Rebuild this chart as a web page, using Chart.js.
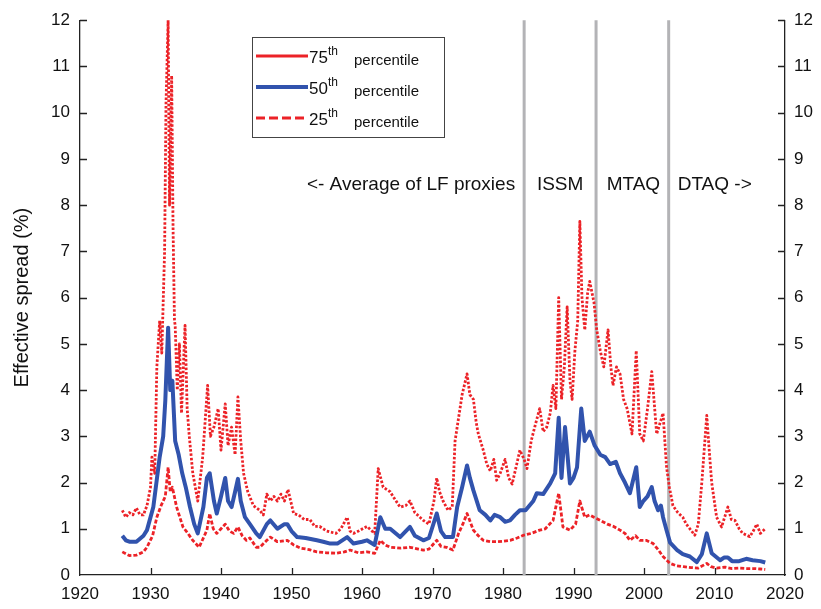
<!DOCTYPE html>
<html>
<head>
<meta charset="utf-8">
<script src="https://cdn.jsdelivr.net/npm/chart.js"></script>
<style>
html, body { margin: 0; padding: 0; background: #fff; }
</style>
</head>
<body>
<canvas id="chart" width="821" height="609"></canvas>
<script>
// effective spread percentiles
const hiYears = [1926,1926.5,1927,1927.5,1928,1928.5,1929,1929.5,1930,1930.2,1930.6,1930.9,1931.3,1931.6,1932,1932.2,1932.5,1932.7,1933,1933.2,1933.4,1933.5,1933.8,1934.1,1934.4,1934.9,1935.2,1935.5,1936,1936.7,1937.4,1938.1,1938.5,1939,1939.6,1940,1940.6,1941,1941.5,1942,1942.4,1942.8,1943.2,1943.8,1944.6,1945.5,1946,1946.5,1947,1947.5,1948,1948.5,1949,1949.5,1950.3,1951,1951.8,1952.6,1953.3,1954,1955,1955.5,1956.3,1957,1957.9,1958.3,1958.8,1959.5,1960.7,1961.8,1962.3,1963,1964,1964.4,1965.4,1966.2,1966.8,1967.5,1968.7,1969.5,1970.2,1970.6,1971,1971.5,1972.2,1972.8,1973.2,1973.7,1974.2,1974.9,1975.3,1975.8,1976.2,1976.5,1977.2,1977.7,1978.2,1978.7,1979.1,1979.6,1980.3,1980.8,1981.3,1981.8,1982.4,1983,1983.4,1984,1984.5,1985.2,1985.7,1986.2,1986.7,1987.1,1987.5,1987.9,1988.3,1988.7,1989.1,1989.5,1989.8,1990.2,1990.6,1990.9,1991.2,1991.6,1992,1992.3,1992.9,1993.3,1993.8,1994.3,1994.9,1995.3,1995.6,1996.1,1996.6,1997.1,1997.6,1998.3,1998.9,1999.4,1999.9,2000.5,2001.1,2001.8,2002.3,2002.7,2003.2,2003.6,2004.1,2004.8,2005.5,2006,2006.5,2007.2,2007.7,2008.2,2008.9,2009.3,2009.6,2010.3,2011,2011.9,2012.4,2012.9,2013.5,2014,2015,2015.5,2016,2016.5,2017.2];
const hiVals = [1.4,1.25,1.35,1.3,1.45,1.3,1.3,1.5,1.9,2.55,2.2,4.5,5.5,4.8,7.0,10.2,12.0,8.0,10.8,7.5,5.5,5.4,4.0,5.0,3.5,5.4,3.6,3.0,2.2,1.6,2.55,4.1,3.0,3.2,3.6,2.7,3.7,2.8,3.2,2.6,3.85,2.9,2.2,1.8,1.5,1.4,1.3,1.75,1.6,1.7,1.6,1.75,1.6,1.85,1.33,1.3,1.2,1.2,1.05,1.05,0.95,0.93,0.9,1.0,1.25,0.95,0.9,0.95,1.05,0.9,2.3,1.9,1.8,1.7,1.47,1.5,1.6,1.35,1.18,1.1,1.6,2.1,1.8,1.6,1.4,1.47,2.9,3.4,3.9,4.35,3.9,3.8,3.3,3.05,2.7,2.4,2.25,2.5,2.05,2.2,2.5,2.1,1.97,2.3,2.7,2.5,2.3,2.9,3.2,3.6,3.1,3.2,3.5,4.1,3.6,6.0,3.8,4.5,5.8,4.2,3.8,4.85,5.5,7.65,6.0,5.3,6.1,6.35,5.9,5.3,4.85,4.5,5.3,4.5,4.1,4.5,4.35,3.8,3.6,3.05,4.85,3.05,2.9,3.6,4.4,3.05,3.3,3.5,2.33,1.9,1.5,1.35,1.25,1.1,1.0,0.86,1.1,2.0,3.45,2.6,2.0,1.25,1.04,1.47,1.2,1.18,1.0,0.9,0.83,0.95,1.1,0.9,1.0];

const midYears = [1926,1926.5,1927,1928,1929,1929.5,1930.4,1931.3,1931.8,1932.1,1932.5,1932.8,1933.1,1933.5,1934,1934.5,1935,1935.6,1936.2,1936.7,1937.5,1938,1938.4,1939,1939.4,1940,1940.6,1941,1941.5,1942,1942.4,1942.8,1943.4,1944.1,1945,1945.5,1946.5,1947,1948,1949,1949.4,1950,1950.8,1952,1953.6,1954.5,1955.5,1956.5,1957.9,1958.8,1960,1960.7,1961.8,1962.6,1963.3,1964,1965.4,1966.8,1967.5,1968.7,1969.5,1970.6,1971.2,1971.8,1972.9,1973.5,1974.2,1974.9,1975.3,1975.8,1976.7,1977.5,1978.2,1978.8,1979.6,1980.3,1981,1981.7,1982.4,1983.2,1984.3,1984.8,1985.7,1986.7,1987.4,1987.9,1988.3,1988.8,1989.5,1990,1990.5,1991.1,1991.6,1992.3,1993,1993.8,1994.5,1995.2,1996,1996.6,1997.3,1998,1998.9,1999.4,1999.9,2000.5,2001.1,2001.5,2002,2002.4,2002.7,2003.2,2003.7,2004.7,2005.5,2006.5,2007.5,2008.2,2008.9,2009.6,2010.8,2011.4,2011.9,2012.5,2013.5,2014.5,2015.4,2016.5,2017.2];
const midVals = [0.85,0.75,0.72,0.72,0.85,0.97,1.47,2.55,3.0,3.77,5.35,4.0,4.2,2.9,2.6,2.2,1.9,1.47,1.1,0.9,1.47,2.1,2.2,1.6,1.33,1.7,2.1,1.6,1.47,1.8,2.08,1.6,1.25,1.1,0.9,0.82,1.1,1.18,1.0,1.1,1.1,0.95,0.82,0.8,0.75,0.72,0.68,0.68,0.82,0.68,0.72,0.75,0.65,1.25,1.0,1.0,0.82,1.04,0.85,0.75,0.8,1.33,0.95,0.82,0.82,1.47,1.9,2.37,2.1,1.83,1.4,1.3,1.18,1.3,1.25,1.15,1.18,1.3,1.4,1.4,1.6,1.77,1.75,1.98,2.2,3.4,2.1,3.2,1.98,2.1,2.33,3.6,2.9,3.1,2.8,2.6,2.55,2.4,2.45,2.2,2.0,1.77,2.33,1.47,1.6,1.7,1.9,1.6,1.4,1.5,1.25,0.97,0.7,0.54,0.45,0.4,0.28,0.45,0.9,0.47,0.32,0.38,0.38,0.3,0.3,0.35,0.32,0.3,0.27];

const loYears = [1926,1927,1928,1929,1929.5,1930.3,1930.9,1931.5,1932.1,1932.5,1932.8,1933.1,1933.7,1934.6,1935.3,1936,1936.9,1938,1938.4,1938.9,1939.4,1940,1940.6,1941.2,1941.8,1942.4,1943,1943.6,1944.1,1945,1945.5,1946.5,1947,1948,1949.4,1950.3,1951.3,1952.5,1953.6,1955,1956.4,1957.5,1958.3,1959.5,1960.7,1961.8,1962.6,1963.3,1964,1965.5,1966.8,1968,1968.7,1969.5,1970.6,1971.2,1972,1972.9,1973.7,1974.3,1974.9,1975.8,1976.5,1977.2,1978.2,1979.1,1980,1981,1982,1982.9,1984,1985.2,1986,1987.1,1987.9,1988.5,1989.5,1990.3,1990.9,1991.6,1992.3,1992.9,1993.8,1994.8,1995.7,1996.6,1997.3,1998,1998.8,1999.4,2000.3,2001.3,2002,2002.7,2003.7,2004.6,2005.6,2006.7,2007.7,2008.9,2009.5,2010.3,2011.5,2012.5,2013.5,2014.5,2015.5,2016.5,2017.2];
const loVals = [0.5,0.42,0.43,0.5,0.6,0.85,1.25,1.5,1.7,2.33,1.8,1.9,1.47,1.04,0.9,0.75,0.6,0.97,1.33,1.0,0.9,1.0,1.1,0.95,0.9,1.04,0.85,0.75,0.8,0.6,0.6,0.75,0.82,0.72,0.75,0.65,0.58,0.55,0.5,0.48,0.47,0.5,0.54,0.48,0.5,0.47,0.75,0.65,0.6,0.58,0.6,0.56,0.54,0.56,0.75,0.62,0.6,0.54,0.9,1.1,1.33,0.97,0.85,0.75,0.72,0.72,0.73,0.75,0.8,0.86,0.9,0.97,1.0,1.18,1.77,1.04,0.97,1.1,1.6,1.25,1.3,1.25,1.18,1.1,1.05,0.97,0.9,0.75,0.85,0.75,0.75,0.68,0.55,0.4,0.25,0.2,0.18,0.16,0.15,0.25,0.18,0.15,0.17,0.14,0.15,0.14,0.14,0.13,0.12];

const breakYears = [1983.0, 1993.2, 2003.5];
const sourceLabels = ['<- Average of LF proxies', 'ISSM', 'MTAQ', 'DTAQ ->'];
const legendLabels = ['75', '50', '25'];

const RED = '#ec2227';
const BLUE = '#3153ad';
const FONT = '"Liberation Sans", Arial, Helvetica, sans-serif';

const toPts = (xs, ys) => xs.map((x, i) => ({ x: x, y: ys[i] }));

// grey period separators + source labels
const periodPlugin = {
  id: 'periods',
  beforeDatasetsDraw(chart) {
    const { ctx, chartArea, scales } = chart;
    ctx.save();
    ctx.strokeStyle = '#b3b3b6';
    ctx.lineWidth = 3;
    breakYears.forEach(yr => {
      const px = scales.x.getPixelForValue(yr);
      ctx.beginPath();
      ctx.moveTo(px, chartArea.top);
      ctx.lineTo(px, chartArea.bottom);
      ctx.stroke();
    });
    const ty = scales.y.getPixelForValue(8.45);
    const b = breakYears.map(yr => scales.x.getPixelForValue(yr));
    ctx.fillStyle = '#111';
    ctx.font = '19px ' + FONT;
    ctx.textBaseline = 'middle';
    ctx.textAlign = 'right';
    ctx.fillText(sourceLabels[0], b[0] - 9, ty);
    ctx.textAlign = 'center';
    ctx.fillText(sourceLabels[1], (b[0] + b[1]) / 2, ty);
    ctx.fillText(sourceLabels[2], (b[1] + b[2]) / 2 + 1, ty);
    ctx.textAlign = 'left';
    ctx.fillText(sourceLabels[3], b[2] + 9, ty);
    ctx.restore();
  }
};

// matlab style inward ticks + legend box
const decoPlugin = {
  id: 'deco',
  afterDraw(chart) {
    const { ctx, chartArea, scales } = chart;
    ctx.save();
    ctx.strokeStyle = '#222';
    ctx.lineWidth = 1.3;
    for (let v = 1930; v <= 2010; v += 10) {
      const px = Math.round(scales.x.getPixelForValue(v)) + 0.5;
      ctx.beginPath();
      ctx.moveTo(px, chartArea.bottom);
      ctx.lineTo(px, chartArea.bottom - 7);
      ctx.stroke();
    }
    for (let v = 1; v <= 12; v++) {
      const py = Math.round(scales.y.getPixelForValue(v)) + 0.5;
      ctx.beginPath();
      ctx.moveTo(chartArea.left, py);
      ctx.lineTo(chartArea.left + 7, py);
      ctx.moveTo(chartArea.right, py);
      ctx.lineTo(chartArea.right - 7, py);
      ctx.stroke();
    }

    // legend
    const lx = 252, ly = 37, lw = 192, lh = 100;
    ctx.fillStyle = '#fff';
    ctx.fillRect(lx, ly, lw, lh);
    ctx.strokeStyle = '#444';
    ctx.lineWidth = 1;
    ctx.strokeRect(lx + 0.5, ly + 0.5, lw, lh);
    const styles = [
      { color: RED, width: 3, dash: [] },
      { color: BLUE, width: 4, dash: [] },
      { color: RED, width: 3, dash: [9, 4] }
    ];
    legendLabels.forEach((lab, i) => {
      const yy = ly + 19 + i * 31;
      const s = styles[i];
      ctx.strokeStyle = s.color;
      ctx.lineWidth = s.width;
      ctx.setLineDash(s.dash);
      ctx.beginPath();
      ctx.moveTo(lx + 4, yy);
      ctx.lineTo(lx + 56, yy);
      ctx.stroke();
      ctx.setLineDash([]);
      ctx.fillStyle = '#111';
      ctx.textBaseline = 'alphabetic';
      ctx.textAlign = 'left';
      ctx.font = '17px ' + FONT;
      ctx.fillText(lab, lx + 57, yy + 7);
      const w1 = ctx.measureText(lab).width;
      ctx.font = '12px ' + FONT;
      ctx.fillText('th', lx + 57 + w1, yy - 1);
      ctx.font = '15px ' + FONT;
      ctx.fillText('percentile', lx + 102, yy + 9);
    });
    ctx.restore();
  }
};

const tickFont = { family: FONT, size: 17 };

new Chart(document.getElementById('chart'), {
  type: 'line',
  data: {
    datasets: [
      { label: '50th percentile', data: toPts(midYears, midVals), borderColor: BLUE, borderWidth: 4, order: 0 },
      { label: '75th percentile', data: toPts(hiYears, hiVals), borderColor: RED, borderWidth: 2.8, borderDash: [2.5, 1.8], order: 1 },
      { label: '25th percentile', data: toPts(loYears, loVals), borderColor: RED, borderWidth: 2.8, borderDash: [4, 2], order: 2 }
    ]
  },
  options: {
    responsive: false,
    animation: false,
    elements: { point: { radius: 0 }, line: { tension: 0, borderJoinStyle: 'round' } },
    layout: { padding: { top: 18, left: 0, right: 0, bottom: 0 } },
    plugins: { legend: { display: false }, tooltip: { enabled: false } },
    scales: {
      x: {
        type: 'linear', min: 1920, max: 2020,
        border: { display: true, color: '#222', width: 1.3 },
        grid: { display: true, drawOnChartArea: false, drawTicks: false },
        ticks: { stepSize: 10, font: tickFont, color: '#111', padding: 9, maxRotation: 0, callback: v => String(v) },
        afterFit: s => { s.height = 34; }
      },
      y: {
        position: 'left', min: 0, max: 12,
        border: { display: true, color: '#222', width: 1.3 },
        grid: { display: true, drawOnChartArea: false, drawTicks: false },
        ticks: { stepSize: 1, font: tickFont, color: '#111', padding: 10 },
        title: { display: true, text: 'Effective spread (%)', font: { family: FONT, size: 20 }, color: '#111', padding: { top: 10 } },
        afterFit: s => { s.width = 80; }
      },
      y2: {
        position: 'right', min: 0, max: 12,
        border: { display: true, color: '#222', width: 1.3 },
        grid: { display: true, drawOnChartArea: false, drawTicks: false },
        ticks: { stepSize: 1, font: tickFont, color: '#111', padding: 9 },
        afterFit: s => { s.width = 36; }
      }
    }
  },
  plugins: [periodPlugin, decoPlugin]
});
</script>
</body>
</html>
